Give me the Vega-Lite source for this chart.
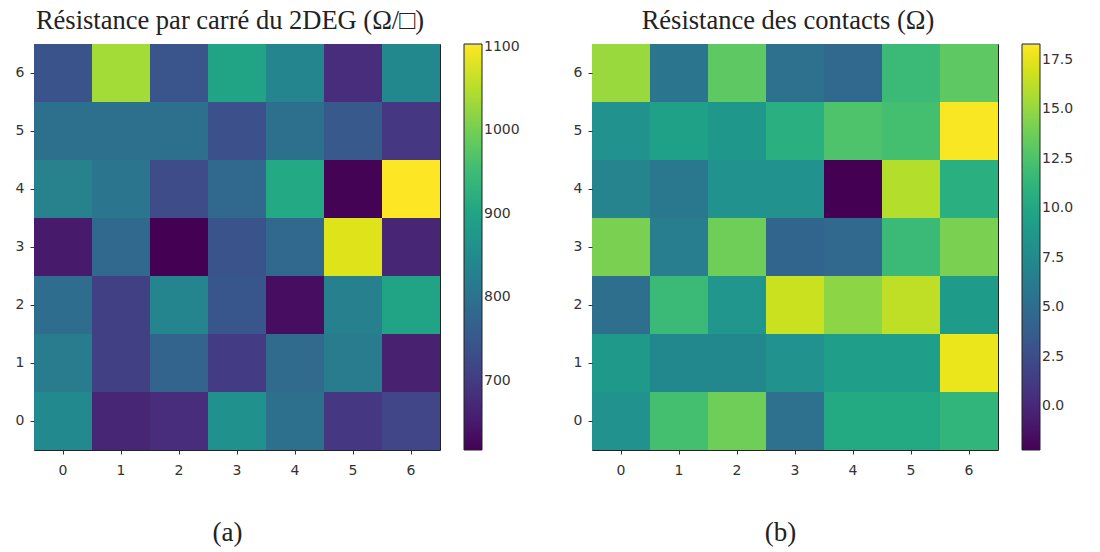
{
  "$schema": "https://vega.github.io/schema/vega-lite/v6.json",
  "padding": {"left": 14, "top": 7, "right": 5, "bottom": 5},
  "background": "white",
  "config": {
    "view": {"stroke": "#222", "strokeWidth": 1},
    "axis": {"labelFont": "DejaVu Sans", "labelFontSize": 14, "labelColor": "#333", "tickColor": "#333", "tickSize": 4, "domain": false, "grid": false, "labelAngle": 0, "titleFont": "Liberation Serif", "titleFontSize": 27, "titleFontWeight": "normal", "titleColor": "#222"},
    "legend": {"labelFont": "DejaVu Sans", "labelFontSize": 14, "labelColor": "#333", "gradientThickness": 18, "gradientLength": 406, "gradientStrokeColor": "#222", "gradientStrokeWidth": 1, "offset": 24, "labelOffset": 7, "padding": 0},
    "title": {"font": "Liberation Serif", "fontSize": 26.5, "fontWeight": "normal", "color": "#222", "offset": 10},
    "concat": {"spacing": 51}
  },
  "datasets": {
    "rs": [
      {"x": 0, "y": 6, "v": 741}, {"x": 1, "y": 6, "v": 1037}, {"x": 2, "y": 6, "v": 745}, {"x": 3, "y": 6, "v": 901}, {"x": 4, "y": 6, "v": 838}, {"x": 5, "y": 6, "v": 678}, {"x": 6, "y": 6, "v": 843},
      {"x": 0, "y": 5, "v": 795}, {"x": 1, "y": 5, "v": 795}, {"x": 2, "y": 5, "v": 795}, {"x": 3, "y": 5, "v": 736}, {"x": 4, "y": 5, "v": 795}, {"x": 5, "y": 5, "v": 751}, {"x": 6, "y": 5, "v": 693},
      {"x": 0, "y": 4, "v": 829}, {"x": 1, "y": 4, "v": 805}, {"x": 2, "y": 4, "v": 727}, {"x": 3, "y": 4, "v": 780}, {"x": 4, "y": 4, "v": 911}, {"x": 5, "y": 4, "v": 620}, {"x": 6, "y": 4, "v": 1103},
      {"x": 0, "y": 3, "v": 649}, {"x": 1, "y": 3, "v": 780}, {"x": 2, "y": 3, "v": 617}, {"x": 3, "y": 3, "v": 741}, {"x": 4, "y": 3, "v": 780}, {"x": 5, "y": 3, "v": 1080}, {"x": 6, "y": 3, "v": 668},
      {"x": 0, "y": 2, "v": 790}, {"x": 1, "y": 2, "v": 707}, {"x": 2, "y": 2, "v": 838}, {"x": 3, "y": 2, "v": 746}, {"x": 4, "y": 2, "v": 632}, {"x": 5, "y": 2, "v": 825}, {"x": 6, "y": 2, "v": 901},
      {"x": 0, "y": 1, "v": 817}, {"x": 1, "y": 1, "v": 707}, {"x": 2, "y": 1, "v": 770}, {"x": 3, "y": 1, "v": 702}, {"x": 4, "y": 1, "v": 785}, {"x": 5, "y": 1, "v": 817}, {"x": 6, "y": 1, "v": 659},
      {"x": 0, "y": 0, "v": 848}, {"x": 1, "y": 0, "v": 668}, {"x": 2, "y": 0, "v": 678}, {"x": 3, "y": 0, "v": 860}, {"x": 4, "y": 0, "v": 795}, {"x": 5, "y": 0, "v": 693}, {"x": 6, "y": 0, "v": 717}
    ],
    "rc": [
      {"x": 0, "y": 6, "v": 15.2}, {"x": 1, "y": 6, "v": 5.8}, {"x": 2, "y": 6, "v": 13.2}, {"x": 3, "y": 6, "v": 5.4}, {"x": 4, "y": 6, "v": 4.6}, {"x": 5, "y": 6, "v": 11.7}, {"x": 6, "y": 6, "v": 13.2},
      {"x": 0, "y": 5, "v": 8.1}, {"x": 1, "y": 5, "v": 9.5}, {"x": 2, "y": 5, "v": 8.7}, {"x": 3, "y": 5, "v": 10.7}, {"x": 4, "y": 5, "v": 12.6}, {"x": 5, "y": 5, "v": 12.2}, {"x": 6, "y": 5, "v": 18.2},
      {"x": 0, "y": 4, "v": 7.0}, {"x": 1, "y": 4, "v": 6.0}, {"x": 2, "y": 4, "v": 8.1}, {"x": 3, "y": 4, "v": 8.1}, {"x": 4, "y": 4, "v": -2.2}, {"x": 5, "y": 4, "v": 16.0}, {"x": 6, "y": 4, "v": 10.7},
      {"x": 0, "y": 3, "v": 14.2}, {"x": 1, "y": 3, "v": 6.4}, {"x": 2, "y": 3, "v": 13.8}, {"x": 3, "y": 3, "v": 4.4}, {"x": 4, "y": 3, "v": 4.6}, {"x": 5, "y": 3, "v": 11.7}, {"x": 6, "y": 3, "v": 14.2},
      {"x": 0, "y": 2, "v": 5.2}, {"x": 1, "y": 2, "v": 11.7}, {"x": 2, "y": 2, "v": 8.5}, {"x": 3, "y": 2, "v": 16.7}, {"x": 4, "y": 2, "v": 14.8}, {"x": 5, "y": 2, "v": 16.3}, {"x": 6, "y": 2, "v": 9.1},
      {"x": 0, "y": 1, "v": 8.9}, {"x": 1, "y": 1, "v": 7.4}, {"x": 2, "y": 1, "v": 7.4}, {"x": 3, "y": 1, "v": 8.1}, {"x": 4, "y": 1, "v": 9.3}, {"x": 5, "y": 1, "v": 9.3}, {"x": 6, "y": 1, "v": 17.7},
      {"x": 0, "y": 0, "v": 8.1}, {"x": 1, "y": 0, "v": 12.2}, {"x": 2, "y": 0, "v": 13.8}, {"x": 3, "y": 0, "v": 5.4}, {"x": 4, "y": 0, "v": 10.3}, {"x": 5, "y": 0, "v": 10.3}, {"x": 6, "y": 0, "v": 11.3}
    ]
  },
  "resolve": {"scale": {"color": "independent"}, "legend": {"color": "independent"}},
  "hconcat": [
    {
      "width": 406, "height": 406,
      "title": {"text": "Résistance par carré du 2DEG (Ω/□)", "dx": -7},
      "data": {"name": "rs"},
      "mark": {"type": "rect"},
      "encoding": {
        "x": {"field": "x", "type": "ordinal", "scale": {"paddingInner": 0, "paddingOuter": 0}, "axis": {"title": "(a)", "titlePadding": 42, "labelPadding": 9, "titleX": 193}},
        "y": {"field": "y", "type": "ordinal", "sort": "descending", "scale": {"paddingInner": 0, "paddingOuter": 0}, "axis": {"title": null, "labelPadding": 6}},
        "color": {"field": "v", "type": "quantitative", "scale": {"scheme": "viridis", "domain": [617, 1103]}, "legend": {"title": null, "values": [700, 800, 900, 1000, 1100], "format": "d"}}
      }
    },
    {
      "width": 406, "height": 406,
      "title": {"text": "Résistance des contacts (Ω)", "dx": -7},
      "data": {"name": "rc"},
      "mark": {"type": "rect"},
      "encoding": {
        "x": {"field": "x", "type": "ordinal", "scale": {"paddingInner": 0, "paddingOuter": 0}, "axis": {"title": "(b)", "titlePadding": 42, "labelPadding": 9, "titleX": 188}},
        "y": {"field": "y", "type": "ordinal", "sort": "descending", "scale": {"paddingInner": 0, "paddingOuter": 0}, "axis": {"title": null, "labelPadding": 6}},
        "color": {"field": "v", "type": "quantitative", "scale": {"scheme": "viridis", "domain": [-2.2, 18.3]}, "legend": {"title": null, "values": [0, 2.5, 5, 7.5, 10, 12.5, 15, 17.5], "format": ".1f"}}
      }
    }
  ]
}
